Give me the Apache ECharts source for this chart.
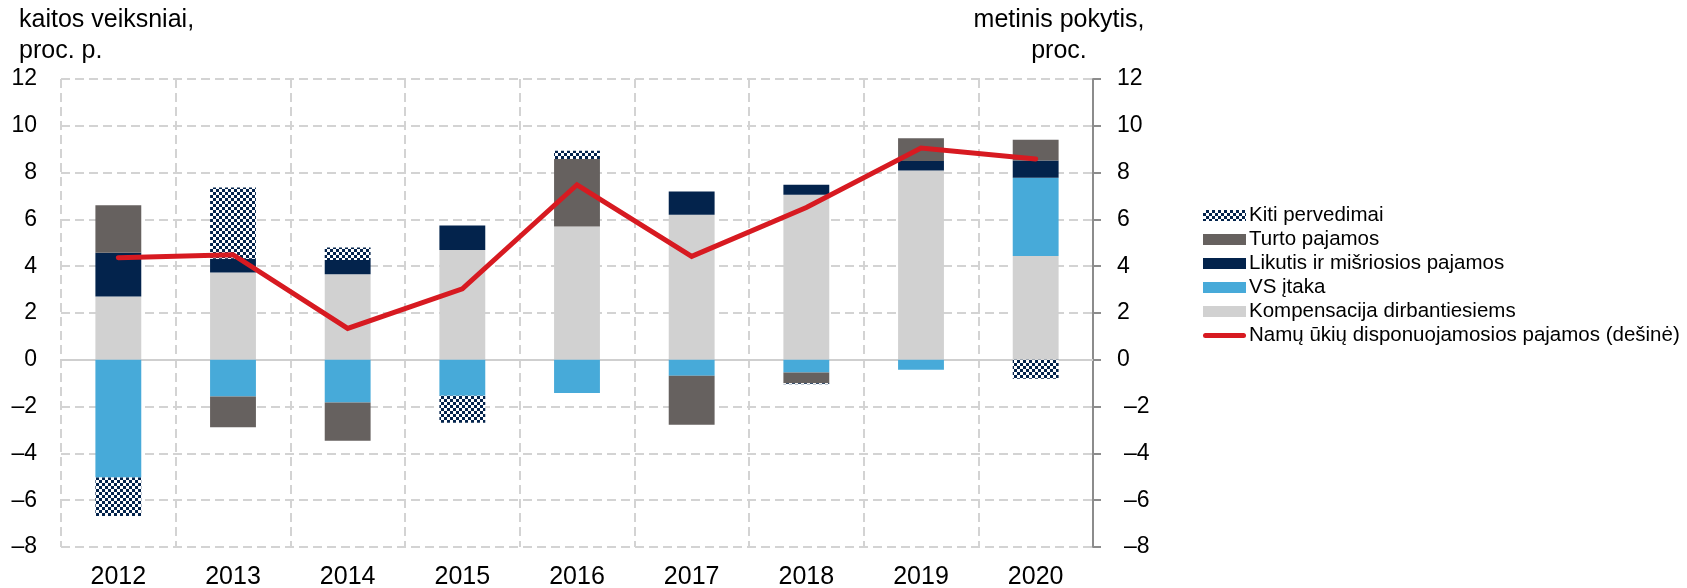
<!DOCTYPE html>
<html>
<head>
<meta charset="utf-8">
<script src="https://cdn.jsdelivr.net/npm/echarts@6/dist/echarts.min.js"></script>
<style>
    html, body { margin: 0; padding: 0; background: #fff; }
    #chart { width: 1687px; height: 588px; }
</style>
</head>
<body>
<div id="chart"></div>
<script>
// duomenys
var years = ['2012', '2013', '2014', '2015', '2016', '2017', '2018', '2019', '2020'];
var kompensacija = [2.70, 3.73, 3.66, 4.69, 5.70, 6.20, 7.05, 8.09, 4.44];
var vsItaka = [-5.03, -1.57, -1.82, -1.54, -1.42, -0.68, -0.54, -0.43, 3.34];
var likutis = [1.88, 0.59, 0.61, 1.05, 0, 0.99, 0.43, 0.41, 0.74];
var turtoPajamos = [2.03, -1.31, -1.64, 0, 2.88, -2.10, -0.46, 0.97, 0.88];
var kitiPervedimai = [-1.64, 3.04, 0.53, -1.15, 0.35, 0, -0.05, 0, -0.81];
var disponuojamos = [4.36, 4.49, 1.34, 3.03, 7.48, 4.42, 6.51, 9.05, 8.58];

var navy = '#03234c';
var red = '#d71a21';
var gridColor = '#d3d3d3';
var font = '"Liberation Sans", Arial, sans-serif';

// languotas raštas kitiems pervedimams
function checkerPattern() {
    var c = document.createElement('canvas');
    c.width = 6;
    c.height = 6;
    var ctx = c.getContext('2d');
    ctx.fillStyle = navy;
    ctx.fillRect(0, 0, 6, 6);
    ctx.fillStyle = '#ffffff';
    ctx.fillRect(0, 0, 3, 3);
    ctx.fillRect(3, 3, 3, 3);
    return { image: c, repeat: 'repeat' };
}

function fmtLeft(v) {
    return v < 0 ? '\u2013' + Math.abs(v) : String(v);
}
function fmtRight(v) {
    return v < 0 ? '{neg|\u2013' + Math.abs(v) + '}' : String(v);
}

var chart = echarts.init(document.getElementById('chart'), null, { renderer: 'canvas' });

function barSeries(name, data, color) {
    return {
        name: name,
        type: 'bar',
        stack: 'f',
        barWidth: '40%',
        data: data,
        itemStyle: { color: color },
        emphasis: { disabled: true }
    };
}

// storos linijos su apvaliais galais ikona legendai
var lineIcon = 'path://M0,0M43,11M2.5,3L40.5,3A2.5,2.5,0,0,1,40.5,8L2.5,8A2.5,2.5,0,0,1,2.5,3Z';

var option = {
    animation: false,
    backgroundColor: '#ffffff',
    textStyle: { fontFamily: font },
    grid: { left: 61, right: 594, top: 79, bottom: 41, outerBoundsMode: 'none', containLabel: false },
    legend: {
        orient: 'vertical',
        left: 1198,
        top: 200,
        icon: 'rect',
        itemWidth: 43,
        itemHeight: 11,
        itemGap: 3,
        textStyle: { fontSize: 20.5, color: '#000', fontFamily: font, padding: [0, 0, 0, -2] },
        data: [
            'Kiti pervedimai',
            'Turto pajamos',
            'Likutis ir mišriosios pajamos',
            'VS įtaka',
            'Kompensacija dirbantiesiems',
            { name: 'Namų ūkių disponuojamosios pajamos (dešinė)', icon: lineIcon, itemStyle: { color: red, borderWidth: 0 } }
        ]
    },
    graphic: [
        {
            type: 'text', left: 19, top: 5,
            style: { text: 'kaitos veiksniai,\nproc. p.', font: '25px ' + font, fill: '#000', lineHeight: 31 }
        },
        {
            type: 'text', x: 1059, y: 5,
            style: { text: 'metinis pokytis,\nproc.', font: '25px ' + font, fill: '#000', lineHeight: 31, align: 'center' }
        }
    ],
    xAxis: {
        type: 'category',
        data: years,
        axisTick: { show: false },
        axisLine: { onZero: true, lineStyle: { color: '#cfcfcf', width: 2 } },
        axisLabel: { fontSize: 25, color: '#000', margin: 18 },
        splitLine: { show: true, lineStyle: { color: gridColor, width: 2, type: [9, 5] } }
    },
    yAxis: [
        {
            type: 'value', min: -8, max: 12, interval: 2,
            axisLine: { show: false },
            axisTick: { show: false },
            axisLabel: { fontSize: 23, color: '#000', margin: 24, formatter: fmtLeft },
            splitLine: { show: true, lineStyle: { color: gridColor, width: 2, type: [9, 5] } }
        },
        {
            type: 'value', min: -8, max: 12, interval: 2, position: 'right',
            axisLine: { show: true, lineStyle: { color: '#8c8c8c', width: 2 } },
            axisTick: { show: true, length: 8, lineStyle: { color: '#8c8c8c', width: 2 } },
            axisLabel: {
                fontSize: 23, color: '#000', margin: 24, formatter: fmtRight,
                rich: { neg: { fontSize: 23, color: '#000', padding: [0, 0, 0, 7] } }
            },
            splitLine: { show: false }
        }
    ],
    series: [
        barSeries('Kompensacija dirbantiesiems', kompensacija, '#d1d1d1'),
        barSeries('VS įtaka', vsItaka, '#47aad9'),
        barSeries('Likutis ir mišriosios pajamos', likutis, navy),
        barSeries('Turto pajamos', turtoPajamos, '#66615f'),
        barSeries('Kiti pervedimai', kitiPervedimai, checkerPattern()),
        {
            name: 'Namų ūkių disponuojamosios pajamos (dešinė)',
            type: 'line',
            yAxisIndex: 1,
            z: 5,
            data: disponuojamos,
            symbol: 'none',
            lineStyle: { color: red, width: 5, cap: 'round', join: 'miter' },
            itemStyle: { color: red },
            emphasis: { disabled: true }
        }
    ]
};
chart.setOption(option);
</script>
</body>
</html>
